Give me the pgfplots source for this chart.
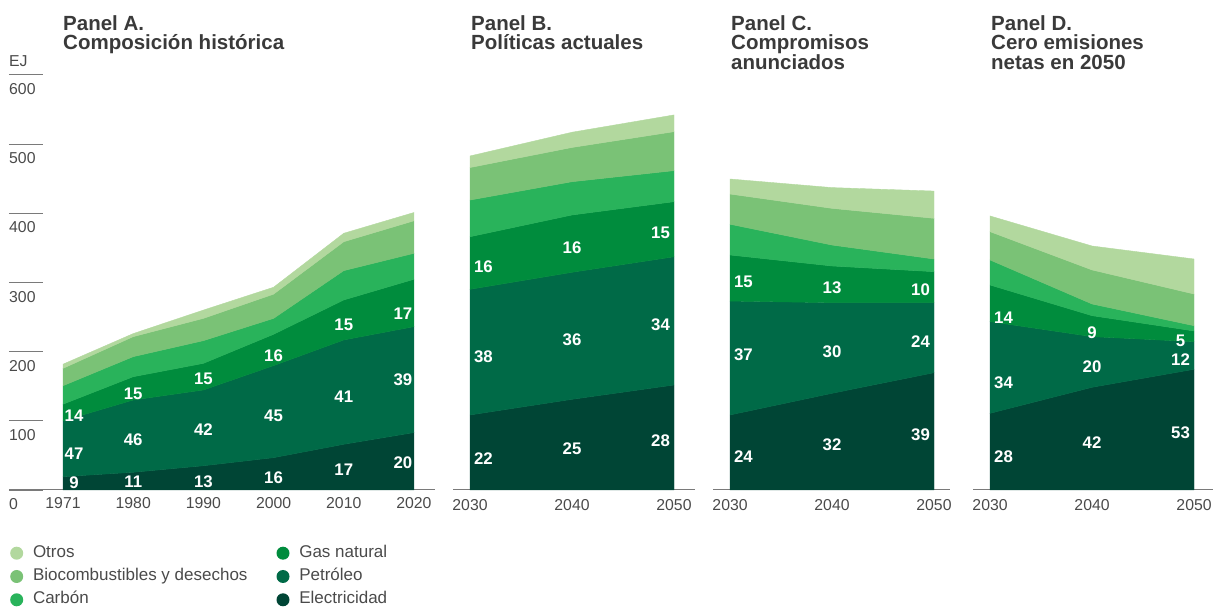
\documentclass[border=0pt]{standalone}
\usepackage{fontspec}
\setmainfont{Liberation Sans}
\usepackage{pgfplots}
\usepackage{pgfplotstable}
\pgfplotsset{compat=1.18}

\definecolor{cOtros}{HTML}{B2D89E}
\definecolor{cBio}{HTML}{7AC276}
\definecolor{cCoal}{HTML}{29B35B}
\definecolor{cGas}{HTML}{008C3D}
\definecolor{cPet}{HTML}{006A47}
\definecolor{cElec}{HTML}{004535}
\definecolor{txtgray}{HTML}{4A4A4A}
\definecolor{ttlgray}{HTML}{3A3A3A}
\definecolor{axgray}{HTML}{7A7A7A}

% Panel A: historical composition (EJ), x index 0..5 = 1971,1980,1990,2000,2010,2020
\pgfplotstableread{
x elec pet gas coal bio otros
0 19.2 80.8 24.0 26.7 25.1 6.0
1 25.6 104.4 33.7 29.0 28.9 4.4
2 35.0 109.5 38.5 32.8 32.2 12.0
3 46.7 133.0 45.3 23.0 35.0 10.0
4 66.0 150.8 57.8 42.4 41.8 12.2
5 82.9 153.1 68.5 37.5 47.0 12.0
}\tabA
% Panel B: current policies, x index 0..2 = 2030,2040,2050
\pgfplotstableread{
x elec pet gas coal bio otros
0 108.4 181.6 76.0 53.0 47.0 16.7
1 131.0 183.6 82.8 48.1 49.5 22.0
2 151.7 185.3 79.6 44.9 56.3 24.2
}\tabB
% Panel C: announced pledges
\pgfplotstableread{
x elec pet gas coal bio otros
0 108.4 164.6 66.6 44.4 43.7 21.7
1 139.7 131.0 53.0 30.3 53.0 30.0
2 169.5 101.2 44.8 18.3 58.8 39.4
}\tabC
% Panel D: net zero 2050
\pgfplotstableread{
x elec pet gas coal bio otros
0 110.8 132.5 52.9 36.2 40.9 22.7
1 148.4 73.2 30.3 16.9 49.2 34.6
2 174.4 39.9 15.5 7.6 45.8 50.6
}\tabD

\tikzset{
  lbl/.style={font=\fontsize{16.8}{17}\selectfont\bfseries, text=white, inner sep=0pt, anchor=center},
  ttl/.style={anchor=north west, inner sep=0pt, align=left, text=ttlgray,
    font=\fontsize{20.5}{19.5}\selectfont\bfseries},
}
\pgfplotsset{
  panel/.style={
    anchor=south west, scale only axis, height=415.2pt,
    ymin=0, ymax=600, clip=false,
    axis x line=bottom,
    x axis line style={-, draw=axgray, line width=1pt},
    xtick style={draw=none},
    xticklabel style={anchor=north, inner sep=0pt, yshift=-7pt},
    tick label style={font=\fontsize{15.8}{16}\selectfont, text=txtgray},
    stack plots=y, reverse stacked plots=false,
  },
  lay/.style={fill=#1, draw=#1, line width=0.4pt, mark=none},
  dotleg/.style={legend image code/.code={\fill[##1, draw=none] (6.5pt,0pt) circle (6.5pt);}},
}

\newcommand{\stacklayers}[1]{%
  \addplot[lay=cElec] table[x=x,y=elec]{#1} \closedcycle;
  \addplot[lay=cPet] table[x=x,y=pet]{#1} \closedcycle;
  \addplot[lay=cGas] table[x=x,y=gas]{#1} \closedcycle;
  \addplot[lay=cCoal] table[x=x,y=coal]{#1} \closedcycle;
  \addplot[lay=cBio] table[x=x,y=bio]{#1} \closedcycle;
  \addplot[lay=cOtros] table[x=x,y=otros]{#1} \closedcycle;
}

\begin{document}
\begin{tikzpicture}
\useasboundingbox (0pt,0pt) rectangle (1215pt,607pt);

% ---------- Panel A ----------
\begin{axis}[panel, at={(9pt,117pt)}, width=426pt,
  xmin=-0.77, xmax=5.3,
  axis y line=left, y axis line style={draw=none},
  xtick={0,1,2,3,4,5}, xticklabels={1971,1980,1990,2000,2010,2020},
  ytick={0,100,200,300,400,500,600}, yticklabels={0,100,200,300,400,500,600},
  ytick style={draw=axgray, line width=0.8pt},
  tick align=inside, major tick length=34pt,
  yticklabel style={anchor=north west, inner sep=0pt, yshift=-8.5pt},
]
\stacklayers{\tabA}
\node[lbl] at (axis cs:0.157,11.1) {9};
\node[lbl] at (axis cs:0.157,53) {47};
\node[lbl] at (axis cs:0.157,107.4) {14};
\node[lbl] at (axis cs:1,12) {11};
\node[lbl] at (axis cs:1,72.3) {46};
\node[lbl] at (axis cs:1,139.7) {15};
\node[lbl] at (axis cs:2,12) {13};
\node[lbl] at (axis cs:2,86.7) {42};
\node[lbl] at (axis cs:2,160) {15};
\node[lbl] at (axis cs:3,18.3) {16};
\node[lbl] at (axis cs:3,107) {45};
\node[lbl] at (axis cs:3,194.6) {16};
\node[lbl] at (axis cs:4,28.9) {17};
\node[lbl] at (axis cs:4,134.9) {41};
\node[lbl] at (axis cs:4,239.4) {15};
\node[lbl] at (axis cs:4.843,40) {20};
\node[lbl] at (axis cs:4.843,160) {39};
\node[lbl] at (axis cs:4.843,255.3) {17};
\end{axis}

% ---------- Panel B ----------
\begin{axis}[panel, at={(453pt,117pt)}, width=242pt,
  xmin=-0.167, xmax=2.206, axis y line=none,
  xtick={0,1,2}, xticklabels={2030,2040,2050}]
\stacklayers{\tabB}
\node[lbl] at (axis cs:0.132,44.8) {22};
\node[lbl] at (axis cs:0.132,192.7) {38};
\node[lbl] at (axis cs:0.132,322.7) {16};
\node[lbl] at (axis cs:1,60.2) {25};
\node[lbl] at (axis cs:1,217.7) {36};
\node[lbl] at (axis cs:1,350.7) {16};
\node[lbl] at (axis cs:1.868,70.8) {28};
\node[lbl] at (axis cs:1.868,238.4) {34};
\node[lbl] at (axis cs:1.868,372.3) {15};
\end{axis}

% ---------- Panel C ----------
\begin{axis}[panel, at={(713pt,117pt)}, width=237pt,
  xmin=-0.167, xmax=2.157, axis y line=none,
  xtick={0,1,2}, xticklabels={2030,2040,2050}]
\stacklayers{\tabC}
\node[lbl] at (axis cs:0.132,48.2) {24};
\node[lbl] at (axis cs:0.132,195) {37};
\node[lbl] at (axis cs:0.132,301) {15};
\node[lbl] at (axis cs:1,66) {32};
\node[lbl] at (axis cs:1,199.9) {30};
\node[lbl] at (axis cs:1,292.4) {13};
\node[lbl] at (axis cs:1.868,80.4) {39};
\node[lbl] at (axis cs:1.868,214.3) {24};
\node[lbl] at (axis cs:1.868,290) {10};
\end{axis}

% ---------- Panel D ----------
\begin{axis}[panel, at={(973pt,117pt)}, width=240pt,
  xmin=-0.167, xmax=2.186, axis y line=none,
  xtick={0,1,2}, xticklabels={2030,2040,2050}]
\stacklayers{\tabD}
\node[lbl] at (axis cs:0.132,48.2) {28};
\node[lbl] at (axis cs:0.132,155) {34};
\node[lbl] at (axis cs:0.132,249) {14};
\node[lbl] at (axis cs:1,69) {42};
\node[lbl] at (axis cs:1,178.2) {20};
\node[lbl] at (axis cs:1,227.3) {9};
\node[lbl] at (axis cs:1.868,82.9) {53};
\node[lbl] at (axis cs:1.868,187.9) {12};
\node[lbl] at (axis cs:1.868,215.3) {5};
\end{axis}

% ---------- Legend ----------
\begin{axis}[at={(0pt,0pt)}, anchor=south west, scale only axis,
  width=1215pt, height=607pt, hide axis,
  xmin=0, xmax=1215, ymin=0, ymax=607,
  legend columns=2, legend cell align=left,
  legend style={at={(axis cs:10.2,61.5)}, anchor=north west, draw=none, fill=none,
    inner sep=0pt, outer sep=0pt,
    font=\fontsize{17}{17}\selectfont, text=txtgray,
    row sep=7.9pt,
    nodes={inner sep=0pt, text height=11.8pt, text depth=3.6pt},
    /tikz/every odd column/.append style={column sep=9.8pt},
    /tikz/every even column/.append style={column sep=29pt}}]
\addlegendimage{dotleg, fill=cOtros}\addlegendentry{Otros}
\addlegendimage{dotleg, fill=cGas}\addlegendentry{Gas natural}
\addlegendimage{dotleg, fill=cBio}\addlegendentry{Biocombustibles y desechos}
\addlegendimage{dotleg, fill=cPet}\addlegendentry{Petróleo}
\addlegendimage{dotleg, fill=cCoal}\addlegendentry{Carbón}
\addlegendimage{dotleg, fill=cElec}\addlegendentry{Electricidad}
\end{axis}

% ---------- Titles and unit ----------
\node[ttl] at (63pt,592pt) {Panel A.\\Composición histórica};
\node[ttl] at (471pt,592pt) {Panel B.\\Políticas actuales};
\node[ttl] at (731pt,592pt) {Panel C.\\Compromisos\\anunciados};
\node[ttl] at (991pt,592pt) {Panel D.\\Cero emisiones\\netas en 2050};
\node[anchor=base west, inner sep=0pt, text=txtgray, font=\fontsize{15.8}{16}\selectfont] at (9pt,540pt) {EJ};
\end{tikzpicture}
\end{document}
